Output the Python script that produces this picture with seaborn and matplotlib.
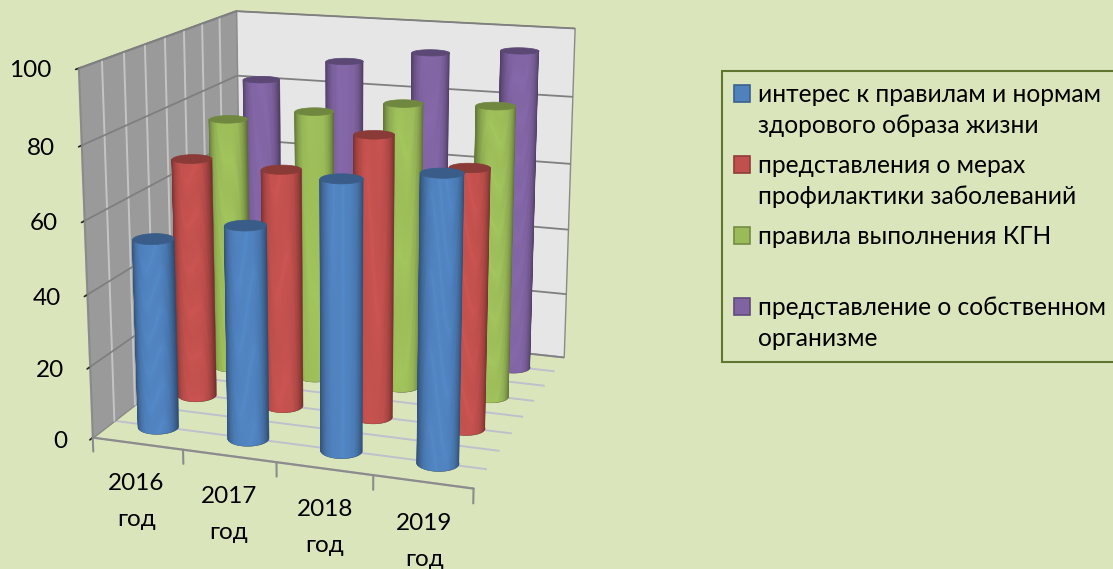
import numpy as np
import matplotlib
matplotlib.use("Agg")
import matplotlib.pyplot as plt
from matplotlib.patches import Patch, Rectangle
from matplotlib.legend_handler import HandlerPatch
from mpl_toolkits.mplot3d.art3d import Poly3DCollection
import seaborn as sns

years = ["2016\nгод", "2017\nгод", "2018\nгод", "2019\nгод"]
series_labels = ["интерес к правилам и нормам\nздорового образа жизни",
                 "представления о мерах\nпрофилактики заболеваний",
                 "правила выполнения КГН\n ",
                 "представление о собственном\nорганизме"]
interest = [53, 59, 73.5, 77]
measures = [69, 68, 79.5, 72.5]
rules = [75, 79, 83, 84]
organism = [82, 89, 93, 95]
z_ticks = [0, 20, 40, 60, 80, 100]
colors = sns.color_palette(["#4F81BD", "#C0504D", "#9BBB59", "#8064A2"])

BG = "#DAE5BC"
sns.set_theme(style="white")
plt.rcParams["font.family"] = ["Lato", "DejaVu Sans"]
plt.rcParams["text.color"] = "black"

ELEV, AZIM, FOCAL = 15, -71, 0.55
fig = plt.figure(figsize=(11.13, 5.69), dpi=100, facecolor=BG)
ax = fig.add_axes([-0.0095, 0.049, 0.62, 1.08], projection="3d", computed_zorder=False, facecolor=BG)
ax.set_proj_type("persp", focal_length=FOCAL)
ax.view_init(elev=ELEV, azim=AZIM)
ax.set_box_aspect((1, 1, 0.95), zoom=1.02)
ax.set_xlim(0, 4, view_margin=0)
ax.set_ylim(0, 4, view_margin=0)
ax.set_zlim(0, 100, view_margin=0)

ax.xaxis.set_pane_color((0, 0, 0, 0))
ax.yaxis.set_pane_color("#E6E6E6")
ax.zaxis.set_pane_color((0, 0, 0, 0))
ax.xaxis.pane.set_edgecolor((0, 0, 0, 0))
ax.zaxis.pane.set_edgecolor((0, 0, 0, 0))
ax.yaxis.pane.set_edgecolor("#8A8A8A")
ax.set_xticks([0.585, 1.585, 2.585, 3.585], years, fontsize=17.5, color="black", linespacing=1.9)
ax.set_yticks(np.arange(0, 4.01, 0.5), [""] * 9)
ax.set_zticks(z_ticks, [str(v) for v in z_ticks], fontsize=17.5, color="black")
for t in ax.zaxis.get_major_ticks():
    t.label1.set_ha("right")
    t.label1.set_va("center")
ax.grid(True)
ax.xaxis._axinfo["grid"]["linewidth"] = 0
ax.yaxis._axinfo["grid"].update(color="#BFC0CC", linewidth=1.4)
ax.zaxis._axinfo["grid"].update(color="#7F7F7F", linewidth=1.3)
for a in (ax.xaxis, ax.yaxis):
    a._axinfo["tick"]["inward_factor"] = 0
    a._axinfo["tick"]["outward_factor"] = 0
ax.xaxis.line.set_color("#8C8C8C")
ax.xaxis.line.set_linewidth(1.6)
ax.yaxis.line.set_color((0, 0, 0, 0))
ax.zaxis.line.set_color("#8C8C8C")
ax.zaxis.set_ticks_position("lower")
ax.tick_params(axis="x", pad=5)
ax.tick_params(axis="z", pad=3)

# left wall
wall = Poly3DCollection([[(0, 0, 0), (0, 4, 0), (0, 4, 100), (0, 0, 100)]],
                        facecolor="#9A9A9A", edgecolor="#8A8A8A", linewidth=1, zorder=-5)
ax.add_collection3d(wall)
for yy in np.arange(0.5, 4, 0.5):
    ax.plot([0, 0], [yy, yy], [0, 100], color="#C4C4C4", lw=1.4, zorder=-4)
for zz in z_ticks[1:]:
    ax.plot([0, 0], [0, 4], [zz, zz], color="#7F7F7F", lw=1.3, zorder=-4)
for b in range(5):
    ax.plot([b, b], [0, 0], [0, -4], color="#8C8C8C", lw=1.5, zorder=-3)


def cylinder(xc, yc, h, col, z):
    r = 0.207
    view = np.deg2rad(AZIM)
    base = np.array(col)
    # one solid body gives a clean outline; the shading strips sit on it
    half = view + np.deg2rad(np.arange(-95, 95.1, 5))
    outline = [(xc + r * np.cos(t), yc + r * np.sin(t), h) for t in half]
    outline += [(xc + r * np.cos(t), yc + r * np.sin(t), 0) for t in half[::-1]]
    ax.add_collection3d(Poly3DCollection([outline], facecolor=base * 0.6, edgecolor=base * 0.6,
                                         linewidth=0.3, zorder=z))
    th = view + np.deg2rad(np.arange(-82, 82.1, 3))
    T, Z = np.meshgrid(th, np.array([0, h]))
    X = xc + r * np.cos(T)
    Y = yc + r * np.sin(T)
    s = np.abs(np.sin(T[:-1, :-1] + np.diff(th)[0] / 2 - view))
    shade = 0.60 + 0.46 * (1 - s ** 3.5)
    fc = np.clip(base[None, None, :] * shade[..., None], 0, 1)
    fc = np.dstack([fc, np.ones(fc.shape[:2])])
    ax.plot_surface(X, Y, Z, facecolors=fc, shade=False, rstride=1, cstride=1,
                    linewidth=0.3, antialiased=True, zorder=z + 0.2)
    ring = np.linspace(0, 2 * np.pi, 73)
    cap = [[(xc + r * np.cos(t), yc + r * np.sin(t), h) for t in ring]]
    ax.add_collection3d(Poly3DCollection(cap, facecolor=base * 0.72, edgecolor=base * 0.72,
                                         linewidth=0.5, zorder=z + 0.5))


all_series = [interest, measures, rules, organism]
z = 1
for s in range(3, -1, -1):
    for i in range(4):
        cylinder(i + 0.5, s + 0.5, all_series[s][i], colors[s], z)
        z += 1


def first_line_patch(legend, orig_handle, xdescent, ydescent, width, height, fontsize):
    # raises the swatch so that it sits beside the first line of a two-line label
    return Rectangle((-xdescent, -ydescent + 0.71 * fontsize), width, height)


handles = [Patch(facecolor=c, edgecolor=np.array(c) * 0.75, linewidth=1.2) for c in colors]
leg = fig.legend(handles, series_labels, loc="upper left",
                 bbox_to_anchor=(722 / 1113, 1 - 362 / 569, 395 / 1113, 291 / 569),
                 bbox_transform=fig.transFigure, mode="expand", fontsize=17.7, frameon=True, fancybox=False,
                 facecolor=BG, edgecolor="#5F7530", framealpha=1, handlelength=0.65, handleheight=0.65,
                 handletextpad=0.3, labelspacing=0.69, borderaxespad=0, borderpad=0.5,
                 handler_map={Patch: HandlerPatch(patch_func=first_line_patch)})
leg.get_frame().set_linewidth(1.5)
for t in leg.get_texts():
    t.set_linespacing(1.42)
    t.set_color("black")
fig.savefig("out.png", dpi=100, facecolor=BG)
